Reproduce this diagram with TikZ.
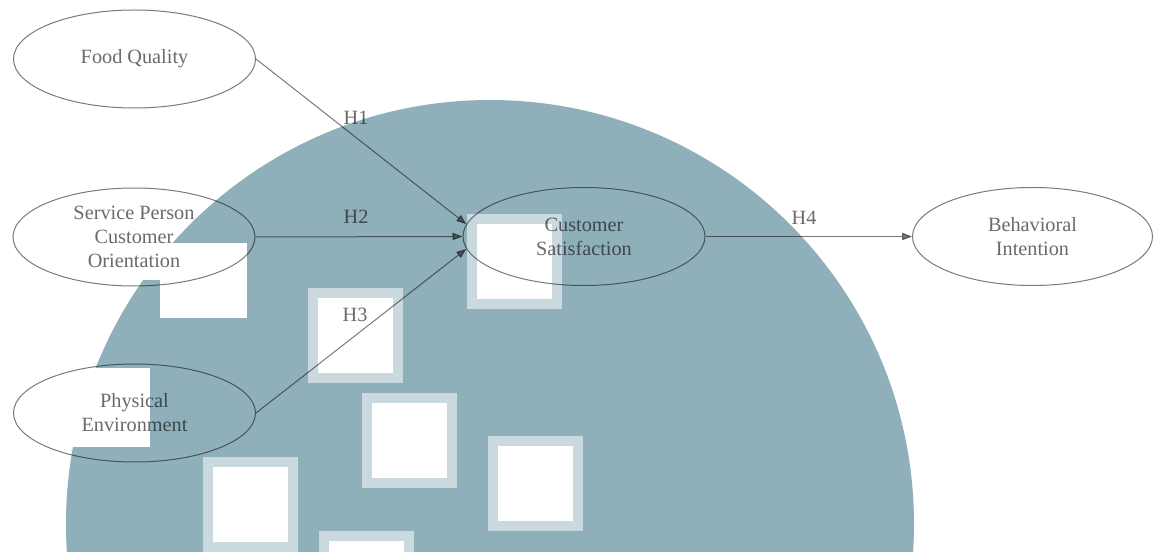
\documentclass[tikz,border=0pt]{standalone}
\usepackage{fontspec}
\setmainfont{Liberation Serif}
\usetikzlibrary{arrows.meta,shapes.geometric}
\definecolor{wm}{HTML}{8FB0BA}
\definecolor{wmlight}{HTML}{C9D9DE}
\definecolor{ln}{HTML}{7A7A7A}
\definecolor{tx}{HTML}{6A6A6A}
\begin{document}
\begin{tikzpicture}[x=0.75pt,y=-0.75pt,
  construct/.style={draw=ln, line width=0.75pt, ellipse, inner sep=0pt,
    minimum width=181.5pt, minimum height=73.5pt, align=center,
    text=tx, font=\fontsize{15.2}{18}\selectfont},
  hyp/.style={draw=ln, line width=0.75pt, -{Triangle[length=7.5pt,width=5.5pt]}},
  hlab/.style={text=tx, inner sep=0pt, font=\fontsize{15.2}{18}\selectfont}]
\useasboundingbox (0,0) rectangle (1154,552);
% watermark (background)
\begin{scope}
  \clip (0,0) rectangle (1154,552);
  \fill[wm] (490,524) circle[radius=424];
  \fill[white] (0,243) rectangle (247,280);
  \fill[white] (160,280) rectangle (247,318);
  \fill[white] (0,368) rectangle (150,447);
  \foreach \sx/\sy in {467/214,308/288,362/393,488/436,203/457,319/531}{
    \fill[wmlight] (\sx,\sy) rectangle ++(95,95);
    \fill[white] (\sx+10,\sy+10) rectangle ++(75,75);
  }
\end{scope}
\begin{scope}[blend mode=multiply]
% constructs
\node[construct] (fq) at (134.5,59) {Food Quality};
\node[construct] (sp) at (134,237) {Service Person\\Customer\\Orientation};
\node[construct] (pe) at (134.5,413) {Physical\\Environment};
\node[construct] (cs) at (584,236.5) {Customer\\Satisfaction};
\node[construct, minimum width=180pt] (bi) at (1032.5,236.5) {Behavioral\\Intention};
% hypotheses
\draw[hyp] (fq.east) -- (cs.174);
\draw[hyp] (sp.east) -- (cs.west);
\draw[hyp] (pe.east) -- (cs.186);
\draw[hyp] (cs.east) -- (bi.west);
\node[hlab] (h1) at (356,118) {H1};
\node[hlab] (h2) at (356,217) {H2};
\node[hlab] (h3) at (355,315) {H3};
\node[hlab] (h4) at (804,218) {H4};
\end{scope}
\end{tikzpicture}
\end{document}
